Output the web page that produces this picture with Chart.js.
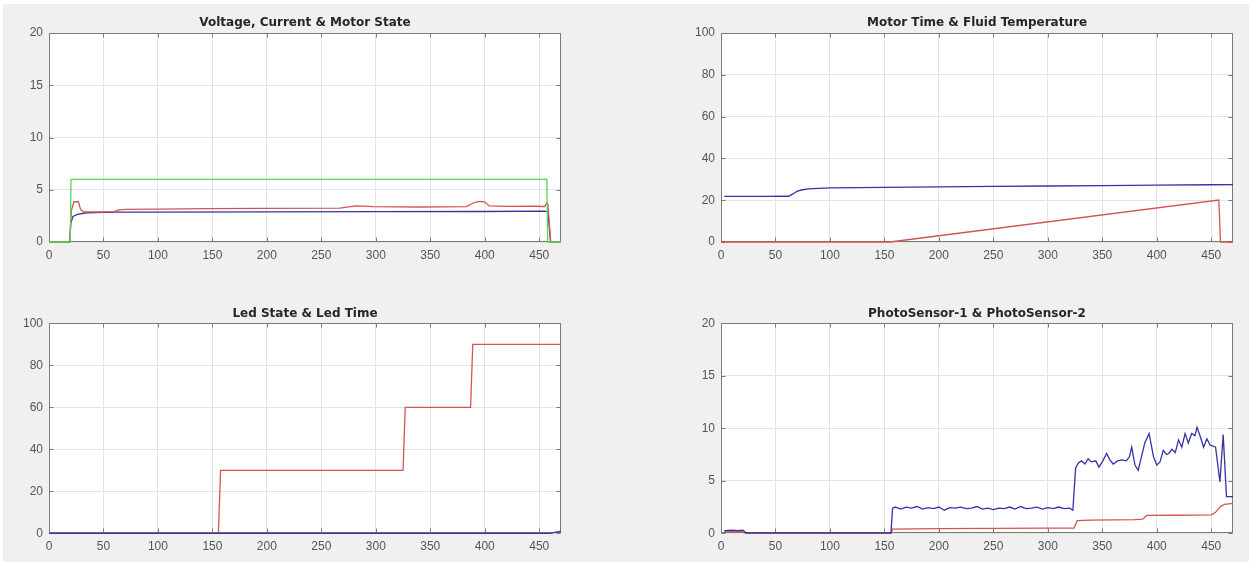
<!DOCTYPE html>
<html>
<head>
<meta charset="utf-8">
<title>Sensor plots</title>
<script src="https://cdn.jsdelivr.net/npm/chart.js@4.4.1/dist/chart.umd.min.js"></script>
<style>
    body { margin: 0; width: 1249px; height: 562px; overflow: hidden; position: relative; background: #ffffff; }
    #panel { position: absolute; left: 3px; top: 4px; right: 0; bottom: 0; background: #f0f0f0; }
    canvas { position: absolute; }
</style>
</head>
<body>
<div id="panel"></div>
<canvas id="vcChart"></canvas>
<canvas id="tempChart"></canvas>
<canvas id="ledChart"></canvas>
<canvas id="photoChart"></canvas>
<script>
// tick labels
const xTicks = [0, 50, 100, 150, 200, 250, 300, 350, 400, 450];
const ticks20 = [0, 5, 10, 15, 20];
const ticks100 = [0, 20, 40, 60, 80, 100];

// Voltage, Current & Motor State
const motorStateX = [0, 19.5, 20.2, 457, 457.8, 470];
const motorState = [0, 0, 6, 6, 0, 0];
const currentX = [0, 19, 20.5, 23, 27, 29, 32, 45, 60, 63, 70, 100, 145, 200, 267, 282, 298, 340, 383, 391, 395, 400, 404, 420, 445, 455, 457, 458, 460.5, 470];
const current = [0, 0, 3.0, 3.85, 3.85, 3.1, 2.87, 2.87, 2.9, 3.05, 3.12, 3.15, 3.2, 3.22, 3.25, 3.45, 3.38, 3.35, 3.38, 3.8, 3.88, 3.85, 3.45, 3.4, 3.42, 3.4, 3.75, 3.6, 0, 0];
const voltageX = [0, 19, 20, 22, 26, 35, 60, 100, 200, 300, 400, 455, 458, 460.5, 470];
const voltage = [0, 0, 1.8, 2.45, 2.65, 2.8, 2.85, 2.85, 2.88, 2.9, 2.92, 2.95, 2.9, 0, 0];

// Motor Time & Fluid Temperature
const fluidTempX = [3, 20, 40, 62, 66, 70, 75, 80, 90, 100, 150, 200, 250, 300, 350, 400, 450, 470];
const fluidTemp = [21.8, 21.8, 21.8, 21.9, 23, 24.3, 25, 25.4, 25.7, 25.9, 26.1, 26.4, 26.6, 26.8, 27.0, 27.2, 27.4, 27.5];
const motorTimeX = [0, 155, 457, 458.5, 470];
const motorTime = [0, 0, 20.1, 0, 0];

// Led State & Led Time
const ledTimeX = [0, 155.5, 157.5, 325, 327, 387, 389, 470];
const ledTime = [0, 0, 30, 30, 60, 60, 90, 90];
const ledStateX = [0, 460, 470];
const ledState = [0, 0, 1];

// PhotoSensor-1 & PhotoSensor-2
const photo1X = [3, 10, 15, 20, 23, 50, 100, 156, 157.5, 160, 165, 170, 175, 180, 185, 190, 195, 200, 205, 210, 215, 220, 225, 230, 235, 240, 245, 250, 255, 260, 265, 270, 275, 280, 285, 290, 295, 300, 305, 310, 315, 320, 323, 325.5, 328, 331, 334, 337, 340, 344, 347, 350, 354, 357, 360, 364, 368, 372, 375, 377, 380, 383, 386, 389, 393, 397, 400, 403, 406, 409, 411, 414, 417, 420, 423, 426, 429, 432, 435, 437, 440, 443, 446, 449, 454, 458, 461, 464, 470];
const photo1 = [0.25, 0.3, 0.25, 0.3, 0.05, 0.05, 0.05, 0.05, 2.4, 2.5, 2.3, 2.5, 2.4, 2.55, 2.3, 2.45, 2.35, 2.5, 2.2, 2.45, 2.4, 2.5, 2.35, 2.4, 2.55, 2.3, 2.4, 2.25, 2.4, 2.35, 2.5, 2.3, 2.55, 2.35, 2.4, 2.5, 2.3, 2.45, 2.35, 2.5, 2.35, 2.4, 2.2, 6.2, 6.7, 6.9, 6.6, 7.1, 6.8, 6.9, 6.3, 6.8, 7.6, 7.0, 6.6, 6.9, 7.0, 6.9, 7.3, 8.2, 6.5, 6.0, 7.3, 8.6, 9.5, 7.3, 6.5, 6.8, 7.9, 7.5, 7.6, 8.0, 7.7, 8.9, 8.2, 9.5, 8.6, 9.5, 9.3, 10.1, 9.2, 8.2, 9.0, 8.4, 8.2, 4.9, 9.4, 3.5, 3.5];
const photo2X = [3, 20, 23, 156, 157.5, 200, 250, 300, 324, 327, 340, 380, 387, 391, 420, 450, 454, 458, 462, 470];
const photo2 = [0.15, 0.15, 0, 0, 0.4, 0.45, 0.47, 0.5, 0.5, 1.2, 1.25, 1.3, 1.35, 1.7, 1.72, 1.75, 2.0, 2.5, 2.75, 2.85];

const BLUE = '#3434a6';
const RED = '#d25454';
const GREEN = '#55d855';
const Y_AXIS_W = 40;
const X_AXIS_H = 26;
const TITLE_LINE = 12 * 1.2;

function toPoints(xs, ys) {
    return xs.map((x, i) => ({ x: x, y: ys[i] }));
}

/**
 * White plot background, grey box and inward tick marks like a MATLAB axes.
 */
const matlabAxes = {
    id: 'matlabAxes',
    beforeDraw(chart) {
        const { ctx, chartArea: a } = chart;
        ctx.save();
        ctx.fillStyle = '#ffffff';
        ctx.fillRect(a.left, a.top, a.right - a.left, a.bottom - a.top);
        ctx.restore();
    },
    beforeDatasetsDraw(chart) {
        const { ctx, chartArea: a, scales } = chart;
        const l = Math.round(a.left) + 0.5, r = Math.round(a.right) - 0.5;
        const t = Math.round(a.top) + 0.5, b = Math.round(a.bottom) - 0.5;
        ctx.save();
        ctx.strokeStyle = '#7a7a7a';
        ctx.lineWidth = 1;
        ctx.strokeRect(l, t, r - l, b - t);
        ctx.beginPath();
        scales.x.ticks.forEach(tk => {
            const px = Math.round(scales.x.getPixelForValue(tk.value)) + 0.5;
            ctx.moveTo(px, b); ctx.lineTo(px, b - 4);
            ctx.moveTo(px, t); ctx.lineTo(px, t + 4);
        });
        scales.y.ticks.forEach(tk => {
            const py = Math.round(scales.y.getPixelForValue(tk.value)) + 0.5;
            ctx.moveTo(l, py); ctx.lineTo(l + 4, py);
            ctx.moveTo(r, py); ctx.lineTo(r - 4, py);
        });
        ctx.stroke();
        ctx.restore();
    }
};

function lineSet(points, color) {
    return { data: points, borderColor: color, borderWidth: 1.3, pointRadius: 0, tension: 0, fill: false, clip: 3 };
}

function makeChart(panel) {
    const [cx, cy, cw, ch] = panel.canvas;
    const [al, at, ar, ab] = panel.area;
    const el = document.getElementById(panel.id);
    el.width = cw;
    el.height = ch;
    el.style.left = cx + 'px';
    el.style.top = cy + 'px';

    const titleTop = panel.titleY - cy - TITLE_LINE / 2;
    const titleBottom = (at - cy) - TITLE_LINE - titleTop;

    return new Chart(el, {
        type: 'line',
        data: { datasets: panel.series },
        plugins: [matlabAxes],
        options: {
            responsive: false,
            animation: false,
            devicePixelRatio: 1,
            layout: {
                padding: { left: al - cx - Y_AXIS_W, right: cx + cw - ar, top: 0, bottom: cy + ch - ab - X_AXIS_H }
            },
            plugins: {
                legend: { display: false },
                tooltip: { enabled: false },
                title: {
                    display: true,
                    text: panel.title,
                    fullSize: false,
                    color: '#262626',
                    font: { family: 'DejaVu Sans', size: 12, weight: 'bold', lineHeight: 1.2 },
                    padding: { top: titleTop, bottom: titleBottom }
                }
            },
            scales: {
                x: {
                    type: 'linear',
                    min: 0,
                    max: 470,
                    afterBuildTicks: s => { s.ticks = xTicks.map(v => ({ value: v })); },
                    afterFit: s => { s.height = X_AXIS_H; },
                    grid: { color: '#e4e4e4', drawTicks: false },
                    border: { display: false },
                    ticks: { padding: 6, color: '#555555', font: { family: 'Liberation Sans', size: 12 }, maxRotation: 0 }
                },
                y: {
                    type: 'linear',
                    min: 0,
                    max: panel.yTicks[panel.yTicks.length - 1],
                    afterBuildTicks: s => { s.ticks = panel.yTicks.map(v => ({ value: v })); },
                    afterFit: s => { s.width = Y_AXIS_W; },
                    grid: { color: '#e4e4e4', drawTicks: false },
                    border: { display: false },
                    ticks: { padding: 6, color: '#555555', font: { family: 'Liberation Sans', size: 12 } }
                }
            }
        }
    });
}

document.addEventListener('DOMContentLoaded', function() {
    const panels = [
        {
            id: 'vcChart', title: 'Voltage, Current & Motor State',
            canvas: [0, 0, 620, 280], area: [49, 33, 561, 242], titleY: 23, yTicks: ticks20,
            series: [
                lineSet(toPoints(motorStateX, motorState), GREEN),
                lineSet(toPoints(currentX, current), RED),
                lineSet(toPoints(voltageX, voltage), BLUE)
            ]
        },
        {
            id: 'tempChart', title: 'Motor Time & Fluid Temperature',
            canvas: [620, 0, 629, 280], area: [721, 33, 1233, 242], titleY: 23, yTicks: ticks100,
            series: [
                lineSet(toPoints(motorTimeX, motorTime), RED),
                lineSet(toPoints(fluidTempX, fluidTemp), BLUE)
            ]
        },
        {
            id: 'ledChart', title: 'Led State & Led Time',
            canvas: [0, 280, 620, 282], area: [49, 323.3, 561, 533.3], titleY: 313.7, yTicks: ticks100,
            series: [
                lineSet(toPoints(ledStateX, ledState), BLUE),
                lineSet(toPoints(ledTimeX, ledTime), RED)
            ]
        },
        {
            id: 'photoChart', title: 'PhotoSensor-1 & PhotoSensor-2',
            canvas: [620, 280, 629, 282], area: [721, 323.3, 1233, 533.3], titleY: 313.7, yTicks: ticks20,
            series: [
                lineSet(toPoints(photo1X, photo1), BLUE),
                lineSet(toPoints(photo2X, photo2), RED)
            ]
        }
    ];

    panels.forEach(makeChart);
});
</script>
</body>
</html>
